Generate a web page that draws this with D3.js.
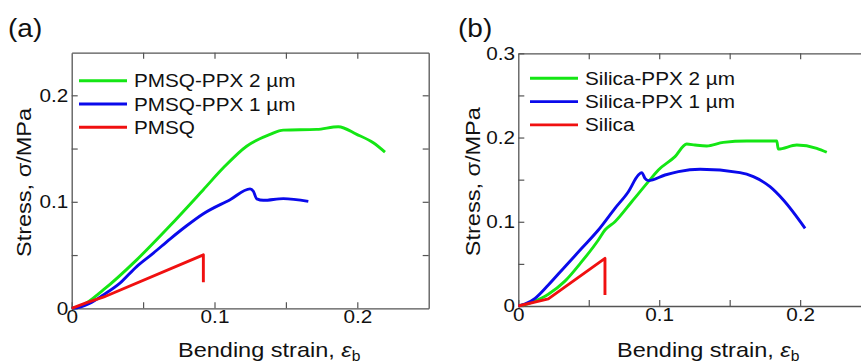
<!DOCTYPE html>
<html>
<head>
<meta charset="utf-8">
<script src="https://cdn.jsdelivr.net/npm/d3@7"></script>
<style>
  body { margin: 0; background: #fff; }
  svg { display: block; font-family: "Liberation Sans", Arial, sans-serif; }
</style>
</head>
<body>
<div id="chart"></div>
<script>
// (a) PMSQ samples, [strain, stress MPa]
const pmsqPpx2 = [[0,0],[.004,.0008],[.0081,.0031],[.0221,.0172],[.0455,.0455],[.0688,.0775],[.0922,.1114],
  [.1062,.1319],[.1225,.1522],[.1389,.1633],[.1482,.1673],[.1716,.168],[.1867,.1705],
  [.1996,.1633],[.2112,.1554],[.2194,.1466]];
const pmsqPpx1 = [[0,0],[.006,.0012],[.0128,.0047],[.0221,.0125],[.0338,.0236],[.0455,.0392],[.0572,.0518],
  [.0688,.065],[.0805,.0775],[.0922,.0888],[.1109,.102],[.1249,.1121],[.1272,.1099],[.1296,.1027],
  [.1342,.1014],[.1482,.103],[.1657,.1004]];
const pmsq = [[0,0],[.0105,.0053],[.0221,.0104],[.0922,.0502],[.0922,.0245]];

// (b) Silica samples
const silicaPpx2 = [[0,0],[.008,.0035],[.0166,.0095],[.0213,.014],[.0331,.0295],[.045,.0526],[.0568,.0784],
  [.0615,.0902],[.0686,.1001],[.0805,.1238],[.0923,.1476],[.0994,.1615],[.1112,.1773],[.1195,.1923],
  [.1254,.1911],[.1337,.19],[.1455,.1943],[.1621,.1959],[.1834,.1959],[.1845,.1864],[.1976,.1911],
  [.2118,.1872],[.2189,.1825]];
const silicaPpx1 = [[0,0],[.005,.0025],[.0119,.0091],[.0213,.0249],[.0331,.0467],[.045,.0685],[.0568,.0902],
  [.0686,.116],[.0781,.1357],[.0852,.1555],[.0876,.1583],[.0899,.1516],[.0923,.1488],[.1041,.1555],
  [.1136,.1595],[.129,.1623],[.1573,.1583],[.1668,.1535],[.1786,.1416],[.1881,.1258],[.2035,.0922]];
const silica = [[0,0],[.0213,.0085],[.0615,.0566],[.0615,.0131]];

const xTicks = [0, 0.05, 0.1, 0.15, 0.2];
const xTickLabels = ["0", "", "0.1", "", "0.2"];
const yTicksA = [0, 0.05, 0.1, 0.15, 0.2];
const yTickLabelsA = ["0", "", "0.1", "", "0.2"];
const yTicksB = [0, 0.05, 0.1, 0.15, 0.2, 0.25, 0.3];
const yTickLabelsB = ["0", "", "0.1", "", "0.2", "", "0.3"];

const namesA = ["PMSQ-PPX 2 µm", "PMSQ-PPX 1 µm", "PMSQ"];
const namesB = ["Silica-PPX 2 µm", "Silica-PPX 1 µm", "Silica"];
const colors = ["#14e614", "#0a0aeb", "#f01010"];

const width = 861, height = 364;
const SX = 1.12; // the original font runs a bit wider than Arial

const svg = d3.select("#chart").append("svg")
    .attr("width", width)
    .attr("height", height);

function label(x, y, txt, size, anchor, rot) {
    return svg.append("text")
        .attr("transform", `translate(${x},${y})` + (rot ? ` rotate(${rot})` : "") + ` scale(${SX},1)`)
        .attr("text-anchor", anchor || "start")
        .attr("font-size", size)
        .attr("fill", "#111")
        .text(txt);
}

function drawPanel(p) {
    const x = d3.scaleLinear().domain([0, 0.25]).range(p.xr);
    const y = d3.scaleLinear().domain(p.yd).range(p.yr);

    const fmt = (labels, ticks) => (d) => labels[ticks.indexOf(d)] || "";

    const styleAxis = (g) => {
        g.select(".domain").attr("stroke", "#555").attr("stroke-width", 1.3);
        g.selectAll(".tick line").attr("stroke", "#555").attr("stroke-width", 1.2);
        g.selectAll(".tick text").attr("font-size", 18.5).attr("fill", "#111")
            .attr("font-family", "Liberation Sans, Arial, sans-serif")
            .attr("transform", `scale(${SX},1)`);
    };

    svg.append("g").attr("transform", `translate(0,${p.yr[0]})`)
        .call(d3.axisBottom(x).tickValues(xTicks).tickFormat(fmt(xTickLabels, xTicks))
            .tickSizeInner(-6).tickSizeOuter(0).tickPadding(2))
        .call(styleAxis);
    svg.append("g").attr("transform", `translate(0,${p.yr[1]})`)
        .call(d3.axisTop(x).tickValues(xTicks.slice(1)).tickFormat("")
            .tickSizeInner(-6).tickSizeOuter(0))
        .call(styleAxis);
    svg.append("g").attr("transform", `translate(${p.xr[0]},0)`)
        .call(d3.axisLeft(y).tickValues(p.yTicks).tickFormat(fmt(p.yLabels, p.yTicks))
            .tickSizeInner(-6).tickSizeOuter(0).tickPadding(3))
        .call(styleAxis);
    svg.append("g").attr("transform", `translate(${p.xr[1]},0)`)
        .call(d3.axisRight(y).tickValues(p.yTicks.slice(1)).tickFormat("")
            .tickSizeInner(-6).tickSizeOuter(0))
        .call(styleAxis);

    const line = d3.line().x(d => x(d[0])).y(d => y(d[1]));
    p.series.forEach((s, i) => {
        svg.append("path")
            .attr("d", line.curve(i < 2 ? d3.curveMonotoneX : d3.curveLinear)(s))
            .attr("fill", "none")
            .attr("stroke", colors[i])
            .attr("stroke-width", 2.9)
            .attr("stroke-linejoin", "round");
    });

    // legend
    p.names.forEach((n, i) => {
        const ly = p.legY + i * 23.3;
        svg.append("line")
            .attr("x1", p.legX).attr("x2", p.legX + 48)
            .attr("y1", ly).attr("y2", ly)
            .attr("stroke", colors[i]).attr("stroke-width", 2.9);
        label(p.legX + 55, ly + 6.5, n, 18.5);
    });

    // axis titles
    label(p.ytX, (p.yr[0] + p.yr[1]) / 2 + 2, "Stress, σ/MPa", 21, "middle", -90);
    const t = label(p.xtX, 357, "Bending strain, ", 21);
    t.append("tspan").attr("font-style", "italic").text("ε");
    t.append("tspan").attr("font-size", 14).attr("dy", 3.5).text("b");

    label(p.tagX, 37, p.tag, 25);
}

drawPanel({
    xr: [71.7, 428.7], yr: [308.3, 52.7], yd: [0, 0.24],
    yTicks: yTicksA, yLabels: yTickLabelsA,
    series: [pmsqPpx2, pmsqPpx1, pmsq], names: namesA,
    legX: 79, legY: 80.7, ytX: 31, xtX: 178, tagX: 8, tag: "(a)"
});

drawPanel({
    xr: [518.3, 870.6], yr: [306, 53.3], yd: [0, 0.3],
    yTicks: yTicksB, yLabels: yTickLabelsB,
    series: [silicaPpx2, silicaPpx1, silica], names: namesB,
    legX: 530, legY: 78.3, ytX: 480, xtX: 617, tagX: 458, tag: "(b)"
});
</script>
</body>
</html>
